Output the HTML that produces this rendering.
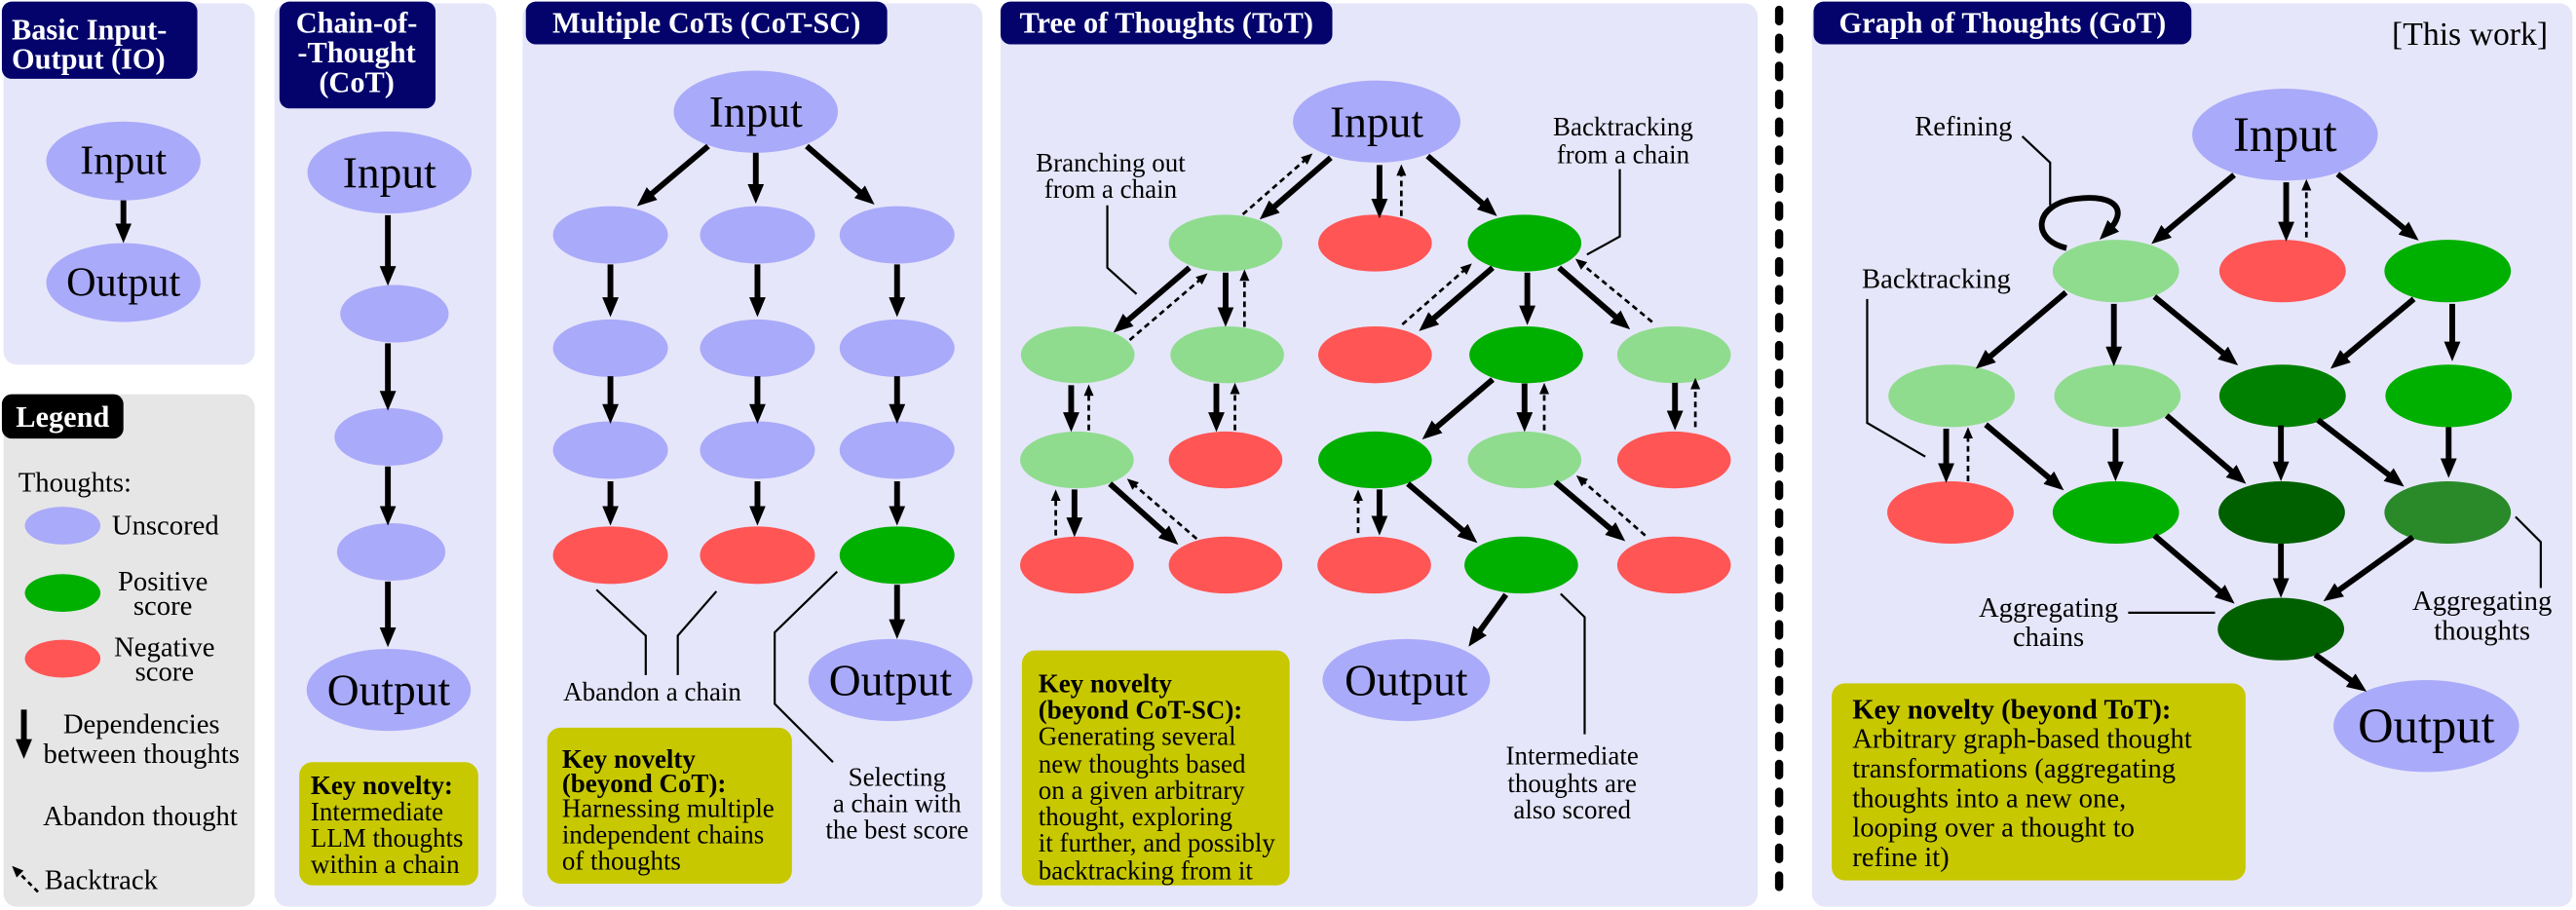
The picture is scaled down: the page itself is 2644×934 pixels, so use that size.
<!DOCTYPE html>
<html><head><meta charset="utf-8"><style>
html,body{margin:0;padding:0;background:#fff;}
svg{display:block;font-family:"Liberation Serif","Times New Roman","DejaVu Serif",serif;}
svg text{font-family:"Liberation Serif","Times New Roman","DejaVu Serif",serif;}
</style></head><body>
<svg width="2644" height="934" viewBox="0 0 1568 554" xmlns="http://www.w3.org/2000/svg" font-family="Liberation Serif, Times New Roman, DejaVu Serif, serif">
<defs>
<marker id="a" viewBox="0 0 12 10" markerWidth="12" markerHeight="10" markerUnits="userSpaceOnUse" refX="5" refY="5" orient="auto"><path d="M0,0 L12,5 L0,10 z" fill="#000"/></marker>
<marker id="d" viewBox="0 0 7 6" markerWidth="7" markerHeight="6" markerUnits="userSpaceOnUse" refX="3" refY="3" orient="auto"><path d="M0,0 L7,3 L0,6 z" fill="#000"/></marker>
</defs>
<g id="panels">
<rect x="2" y="2" width="153" height="220" rx="8" fill="#e6e6fa"/>
<rect x="2" y="240" width="153" height="312" rx="8" fill="#e6e6e6"/>
<rect x="167" y="2" width="135" height="550" rx="8" fill="#e6e6fa"/>
<rect x="318" y="2" width="280" height="550" rx="8" fill="#e6e6fa"/>
<rect x="609" y="2" width="461" height="550" rx="8" fill="#e6e6fa"/>
<rect x="1103" y="2" width="463" height="550" rx="8" fill="#e6e6fa"/>
<line x1="1083" y1="6" x2="1083" y2="550" stroke="#000" stroke-width="5" stroke-dasharray="7 10" stroke-linecap="round"/>
</g>
<!-- titles -->
<g font-weight="bold" fill="#fff" font-size="18">
<rect x="1" y="1" width="119" height="47" rx="6" fill="#03036b"/>
<text x="7" y="18" fill="#fff" dominant-baseline="central">Basic Input-</text>
<text x="7" y="36" fill="#fff" dominant-baseline="central">Output (IO)</text>
<rect x="170" y="1" width="95" height="65" rx="6" fill="#03036b"/>
<text x="217" y="14" fill="#fff" text-anchor="middle" dominant-baseline="central">Chain-of-</text>
<text x="217" y="32" fill="#fff" text-anchor="middle" dominant-baseline="central">-Thought</text>
<text x="217" y="50" fill="#fff" text-anchor="middle" dominant-baseline="central">(CoT)</text>
<rect x="320" y="1" width="220" height="26" rx="6" fill="#03036b"/>
<text x="430" y="14" fill="#fff" text-anchor="middle" dominant-baseline="central">Multiple CoTs (CoT-SC)</text>
<rect x="609" y="1" width="202" height="26" rx="6" fill="#03036b"/>
<text x="710" y="14" fill="#fff" text-anchor="middle" dominant-baseline="central">Tree of Thoughts (ToT)</text>
<rect x="1104" y="1" width="230" height="26" rx="6" fill="#03036b"/>
<text x="1219" y="14" fill="#fff" text-anchor="middle" dominant-baseline="central">Graph of Thoughts (GoT)</text>
<rect x="1" y="240" width="74" height="27" rx="6" fill="#000"/>
<text x="38" y="254" fill="#fff" text-anchor="middle" dominant-baseline="central">Legend</text>
</g>
<text x="1551" y="21" font-size="20" text-anchor="end" dominant-baseline="central">[This work]</text>

<!-- IO -->
<ellipse cx="75" cy="98" rx="47" ry="24" fill="#aaaafa"/>
<ellipse cx="75" cy="172" rx="47" ry="24" fill="#aaaafa"/>
<text x="75" y="98" font-size="25" text-anchor="middle" dominant-baseline="central">Input</text>
<text x="75" y="172" font-size="25" text-anchor="middle" dominant-baseline="central">Output</text>
<line x1="75" y1="122" x2="75" y2="141" stroke="#000" stroke-width="3.5" marker-end="url(#a)"/>

<!-- Legend -->
<g font-size="17">
<text x="11" y="294" dominant-baseline="central">Thoughts:</text>
<ellipse cx="38" cy="320" rx="23" ry="11.5" fill="#aaaafa"/>
<text x="68" y="320" dominant-baseline="central">Unscored</text>
<ellipse cx="38" cy="361" rx="23" ry="11.5" fill="#00b000"/>
<text x="99" y="354" text-anchor="middle" dominant-baseline="central">Positive</text>
<text x="99" y="369" text-anchor="middle" dominant-baseline="central">score</text>
<ellipse cx="38" cy="401" rx="23" ry="11.5" fill="#ff5555"/>
<text x="100" y="394" text-anchor="middle" dominant-baseline="central">Negative</text>
<text x="100" y="409" text-anchor="middle" dominant-baseline="central">score</text>
<line x1="14.4" y1="432" x2="14.4" y2="455" stroke="#000" stroke-width="3.5" marker-end="url(#a)"/>
<text x="86" y="441" text-anchor="middle" dominant-baseline="central">Dependencies</text>
<text x="86" y="459" text-anchor="middle" dominant-baseline="central">between thoughts</text>
<text x="26" y="497" dominant-baseline="central">Abandon thought</text>
<line x1="23" y1="543" x2="10" y2="530" stroke="#000" stroke-width="1.6" stroke-dasharray="3 2.5" marker-end="url(#d)"/>
<text x="27" y="536" dominant-baseline="central">Backtrack</text>
</g>

<!-- CoT -->
<g fill="#aaaafa">
<ellipse cx="237" cy="105" rx="50" ry="25"/>
<ellipse cx="240" cy="191" rx="33" ry="17.5"/>
<ellipse cx="236.5" cy="266" rx="33" ry="17.5"/>
<ellipse cx="238" cy="336" rx="33" ry="17.5"/>
<ellipse cx="236.5" cy="420" rx="50" ry="25"/>
</g>
<text x="237" y="105" font-size="27" text-anchor="middle" dominant-baseline="central">Input</text>
<text x="236.5" y="420" font-size="27" text-anchor="middle" dominant-baseline="central">Output</text>
<g stroke="#000" stroke-width="3.5" marker-end="url(#a)">
<line x1="236" y1="131" x2="236" y2="167"/>
<line x1="236" y1="209" x2="236" y2="243"/>
<line x1="236" y1="284" x2="236" y2="313"/>
<line x1="236" y1="354" x2="236" y2="387"/>
</g>
<rect x="182" y="464" width="109" height="75" rx="8" fill="#c8c800"/>
<g font-size="16">
<text x="189" y="478" font-weight="bold" dominant-baseline="central">Key novelty:</text>
<text x="189" y="494" dominant-baseline="central">Intermediate</text>
<text x="189" y="510" dominant-baseline="central">LLM thoughts</text>
<text x="189" y="526" dominant-baseline="central">within a chain</text>
</g>

<!-- CoT-SC -->
<g fill="#aaaafa">
<ellipse cx="460" cy="68" rx="50" ry="25"/>
<ellipse cx="371.5" cy="143" rx="35" ry="17.5"/><ellipse cx="461" cy="143" rx="35" ry="17.5"/><ellipse cx="546" cy="143" rx="35" ry="17.5"/>
<ellipse cx="371.5" cy="212" rx="35" ry="17.5"/><ellipse cx="461" cy="212" rx="35" ry="17.5"/><ellipse cx="546" cy="212" rx="35" ry="17.5"/>
<ellipse cx="371.5" cy="274" rx="35" ry="17.5"/><ellipse cx="461" cy="274" rx="35" ry="17.5"/><ellipse cx="546" cy="274" rx="35" ry="17.5"/>
<ellipse cx="542" cy="414" rx="50" ry="25"/>
</g>
<ellipse cx="371.5" cy="338" rx="35" ry="17.5" fill="#ff5555"/>
<ellipse cx="461" cy="338" rx="35" ry="17.5" fill="#ff5555"/>
<ellipse cx="546" cy="338" rx="35" ry="17.5" fill="#00b000"/>
<text x="460" y="68" font-size="27" text-anchor="middle" dominant-baseline="central">Input</text>
<text x="542" y="414" font-size="27" text-anchor="middle" dominant-baseline="central">Output</text>
<g stroke="#000" stroke-width="3.5" marker-end="url(#a)">
<line x1="431" y1="89" x2="393" y2="121"/>
<line x1="460" y1="93" x2="460" y2="117"/>
<line x1="491" y1="89" x2="527" y2="120"/>
<line x1="371.5" y1="161" x2="371.5" y2="186"/><line x1="461" y1="161" x2="461" y2="186"/><line x1="546" y1="161" x2="546" y2="186"/>
<line x1="371.5" y1="229" x2="371.5" y2="251"/><line x1="461" y1="229" x2="461" y2="251"/><line x1="546" y1="229" x2="546" y2="251"/>
<line x1="371.5" y1="293" x2="371.5" y2="313"/><line x1="461" y1="293" x2="461" y2="313"/><line x1="546" y1="293" x2="546" y2="313"/>
<line x1="546" y1="356" x2="546" y2="382"/>
</g>
<g stroke="#000" stroke-width="1.3" fill="none">
<polyline points="363,359 393,387 393,411"/>
<polyline points="436,360 412.5,387 412.5,411"/>
<polyline points="509.5,348 471.5,385 471.5,428.5 507,464"/>
</g>
<g font-size="16">
<text x="397" y="421" text-anchor="middle" dominant-baseline="central">Abandon a chain</text>
<text x="546" y="473" text-anchor="middle" dominant-baseline="central">Selecting</text>
<text x="546" y="489" text-anchor="middle" dominant-baseline="central">a chain with</text>
<text x="546" y="505" text-anchor="middle" dominant-baseline="central">the best score</text>
</g>
<rect x="333" y="443" width="149" height="95" rx="8" fill="#c8c800"/>
<g font-size="16">
<text x="342" y="462" font-weight="bold" dominant-baseline="central">Key novelty</text>
<text x="342" y="477" font-weight="bold" dominant-baseline="central">(beyond CoT):</text>
<text x="342" y="492" dominant-baseline="central">Harnessing multiple</text>
<text x="342" y="508" dominant-baseline="central">independent chains</text>
<text x="342" y="524" dominant-baseline="central">of thoughts</text>
</g>

<!-- ToT -->
<ellipse cx="838" cy="74" rx="51" ry="25" fill="#aaaafa"/>
<ellipse cx="856" cy="414" rx="51" ry="25" fill="#aaaafa"/>
<text x="838" y="74" font-size="27" text-anchor="middle" dominant-baseline="central">Input</text>
<text x="856" y="414" font-size="27" text-anchor="middle" dominant-baseline="central">Output</text>
<g>
<ellipse cx="746" cy="148" rx="34.6" ry="17.3" fill="#8fdc8f"/>
<ellipse cx="837" cy="148" rx="34.6" ry="17.3" fill="#ff5555"/>
<ellipse cx="928" cy="148" rx="34.6" ry="17.3" fill="#00b000"/>
<ellipse cx="656" cy="216" rx="34.6" ry="17.3" fill="#8fdc8f"/>
<ellipse cx="747" cy="216" rx="34.6" ry="17.3" fill="#8fdc8f"/>
<ellipse cx="837" cy="216" rx="34.6" ry="17.3" fill="#ff5555"/>
<ellipse cx="929" cy="216" rx="34.6" ry="17.3" fill="#00b000"/>
<ellipse cx="1019" cy="216" rx="34.6" ry="17.3" fill="#8fdc8f"/>
<ellipse cx="655.5" cy="280" rx="34.6" ry="17.3" fill="#8fdc8f"/>
<ellipse cx="746" cy="280" rx="34.6" ry="17.3" fill="#ff5555"/>
<ellipse cx="837" cy="280" rx="34.6" ry="17.3" fill="#00b000"/>
<ellipse cx="928" cy="280" rx="34.6" ry="17.3" fill="#8fdc8f"/>
<ellipse cx="1019" cy="280" rx="34.6" ry="17.3" fill="#ff5555"/>
<ellipse cx="655.5" cy="344" rx="34.6" ry="17.3" fill="#ff5555"/>
<ellipse cx="746" cy="344" rx="34.6" ry="17.3" fill="#ff5555"/>
<ellipse cx="836.5" cy="344" rx="34.6" ry="17.3" fill="#ff5555"/>
<ellipse cx="926" cy="344" rx="34.6" ry="17.3" fill="#00b000"/>
<ellipse cx="1019" cy="344" rx="34.6" ry="17.3" fill="#ff5555"/>
</g>
<g stroke="#000" stroke-width="3.5" marker-end="url(#a)">
<line x1="810" y1="96" x2="772" y2="129"/>
<line x1="839.7" y1="100.5" x2="839.7" y2="126"/>
<line x1="869" y1="95" x2="906" y2="127"/>
<line x1="724" y1="163" x2="683" y2="198"/>
<line x1="746" y1="166" x2="746" y2="192"/>
<line x1="908.6" y1="163" x2="869" y2="197"/>
<line x1="929.7" y1="166" x2="929.7" y2="191"/>
<line x1="949" y1="163" x2="987" y2="196"/>
<line x1="652" y1="234.5" x2="652" y2="256"/>
<line x1="740.4" y1="233.5" x2="740.4" y2="256"/>
<line x1="908.6" y1="231" x2="871" y2="263"/>
<line x1="928" y1="233.5" x2="928" y2="256"/>
<line x1="1019.6" y1="233" x2="1019.6" y2="255"/>
<line x1="654" y1="298" x2="654" y2="320"/>
<line x1="675.6" y1="294.5" x2="712" y2="327"/>
<line x1="839.7" y1="298" x2="839.7" y2="319"/>
<line x1="857" y1="294.5" x2="894" y2="326"/>
<line x1="946.8" y1="293.5" x2="984" y2="325"/>
<line x1="916.7" y1="362" x2="898" y2="388"/>
</g>
<g stroke="#000" stroke-width="1.6" stroke-dasharray="3.5 2.5" marker-end="url(#d)">
<line x1="756.5" y1="130.5" x2="796" y2="96"/>
<line x1="853" y1="131.5" x2="853" y2="104"/>
<line x1="687.6" y1="207" x2="732" y2="169"/>
<line x1="757.5" y1="199" x2="757.5" y2="168"/>
<line x1="853.6" y1="197.5" x2="893" y2="163"/>
<line x1="1005.7" y1="196" x2="962" y2="160"/>
<line x1="662.7" y1="262" x2="662.7" y2="238"/>
<line x1="751.7" y1="262" x2="751.7" y2="237"/>
<line x1="940" y1="262" x2="940" y2="237"/>
<line x1="1032" y1="260" x2="1032" y2="234"/>
<line x1="642.6" y1="326" x2="642.6" y2="302"/>
<line x1="728.4" y1="328" x2="689" y2="294"/>
<line x1="826.7" y1="324.5" x2="826.7" y2="302"/>
<line x1="1001.5" y1="326" x2="962.5" y2="292"/>
</g>
<g stroke="#000" stroke-width="1.3" fill="none">
<polyline points="674,125 674,163 691.8,179"/>
<polyline points="986,103 986,144 966,155"/>
<polyline points="950,361.5 964.6,375.7 964.6,447"/>
</g>
<g font-size="16">
<text x="676" y="99" text-anchor="middle" dominant-baseline="central">Branching out</text>
<text x="676" y="115" text-anchor="middle" dominant-baseline="central">from a chain</text>
<text x="988" y="77" text-anchor="middle" dominant-baseline="central">Backtracking</text>
<text x="988" y="94" text-anchor="middle" dominant-baseline="central">from a chain</text>
<text x="957" y="460" text-anchor="middle" dominant-baseline="central">Intermediate</text>
<text x="957" y="477" text-anchor="middle" dominant-baseline="central">thoughts are</text>
<text x="957" y="493" text-anchor="middle" dominant-baseline="central">also scored</text>
</g>
<rect x="622" y="396" width="163" height="143" rx="8" fill="#c8c800"/>
<g font-size="16">
<text x="632" y="416" font-weight="bold" dominant-baseline="central">Key novelty</text>
<text x="632" y="432" font-weight="bold" dominant-baseline="central">(beyond CoT-SC):</text>
<text x="632" y="448" dominant-baseline="central">Generating several</text>
<text x="632" y="465" dominant-baseline="central">new thoughts based</text>
<text x="632" y="481" dominant-baseline="central">on a given arbitrary</text>
<text x="632" y="497" dominant-baseline="central">thought, exploring</text>
<text x="632" y="513" dominant-baseline="central">it further, and possibly</text>
<text x="632" y="530" dominant-baseline="central">backtracking from it</text>
</g>

<!-- GoT -->
<ellipse cx="1391" cy="82" rx="56.5" ry="28" fill="#aaaafa"/>
<ellipse cx="1477" cy="442" rx="56.5" ry="28" fill="#aaaafa"/>
<text x="1391" y="82" font-size="30" text-anchor="middle" dominant-baseline="central">Input</text>
<text x="1477" y="442" font-size="30" text-anchor="middle" dominant-baseline="central">Output</text>
<ellipse cx="1288" cy="165" rx="38.5" ry="19" fill="#8fdc8f"/>
<ellipse cx="1389.5" cy="165" rx="38.5" ry="19" fill="#ff5555"/>
<ellipse cx="1490" cy="165" rx="38.5" ry="19" fill="#00b000"/>
<ellipse cx="1188" cy="241" rx="38.5" ry="19" fill="#8fdc8f"/>
<ellipse cx="1289" cy="241" rx="38.5" ry="19" fill="#8fdc8f"/>
<ellipse cx="1389.5" cy="241" rx="38.5" ry="19" fill="#008000"/>
<ellipse cx="1490.6" cy="241" rx="38.5" ry="19" fill="#00b000"/>
<ellipse cx="1187.3" cy="312" rx="38.5" ry="19" fill="#ff5555"/>
<ellipse cx="1288" cy="312" rx="38.5" ry="19" fill="#00b000"/>
<ellipse cx="1389" cy="312" rx="38.5" ry="19" fill="#006000"/>
<ellipse cx="1490" cy="312" rx="38.5" ry="19" fill="#2a8a2a"/>
<ellipse cx="1388.5" cy="383" rx="38.5" ry="19" fill="#006000"/>
<g stroke="#000" stroke-width="3.5" marker-end="url(#a)">
<line x1="1360" y1="106.5" x2="1315" y2="144"/>
<line x1="1391.7" y1="111" x2="1391.7" y2="140"/>
<line x1="1423" y1="106" x2="1467" y2="142"/>
<line x1="1257.6" y1="178" x2="1208" y2="220"/>
<line x1="1286.8" y1="185" x2="1286.8" y2="216"/>
<line x1="1311.5" y1="180.6" x2="1357" y2="218"/>
<line x1="1469.4" y1="182" x2="1424" y2="220"/>
<line x1="1492.8" y1="185" x2="1492.8" y2="213"/>
<line x1="1184.7" y1="261" x2="1184.7" y2="287"/>
<line x1="1208.8" y1="258.5" x2="1251" y2="294"/>
<line x1="1287.8" y1="261" x2="1287.8" y2="286"/>
<line x1="1318.9" y1="253" x2="1362" y2="290"/>
<line x1="1388.5" y1="259" x2="1388.5" y2="286"/>
<line x1="1411" y1="255.7" x2="1458" y2="292"/>
<line x1="1490.6" y1="260" x2="1490.6" y2="284"/>
<line x1="1311.5" y1="326" x2="1355" y2="363"/>
<line x1="1388.5" y1="331" x2="1388.5" y2="357"/>
<line x1="1468.8" y1="327" x2="1420" y2="362"/>
<line x1="1409.4" y1="398.6" x2="1435" y2="417"/>
</g>
<g stroke="#000" stroke-width="1.6" stroke-dasharray="3.5 2.5" marker-end="url(#d)">
<line x1="1404" y1="144.6" x2="1404" y2="113"/>
<line x1="1198" y1="293" x2="1198" y2="264"/>
</g>
<path d="M1258,151 C1236,146 1238,124 1264,121 C1288,118 1296,128 1283,141" fill="none" stroke="#000" stroke-width="3.5" marker-end="url(#a)"/>
<g stroke="#000" stroke-width="1.3" fill="none">
<polyline points="1231,83 1248,99 1248,125"/>
<polyline points="1136.6,182 1136.6,257.5 1172,278"/>
<polyline points="1295.5,373 1348.4,373"/>
<polyline points="1531.3,314.6 1546.7,330 1546.7,358"/>
</g>
<g font-size="17">
<text x="1225" y="77" text-anchor="end" dominant-baseline="central">Refining</text>
<text x="1224" y="170" text-anchor="end" dominant-baseline="central">Backtracking</text>
<text x="1247" y="370" text-anchor="middle" dominant-baseline="central">Aggregating</text>
<text x="1247" y="388" text-anchor="middle" dominant-baseline="central">chains</text>
<text x="1511" y="366" text-anchor="middle" dominant-baseline="central">Aggregating</text>
<text x="1511" y="384" text-anchor="middle" dominant-baseline="central">thoughts</text>
</g>
<rect x="1115" y="416" width="252" height="120" rx="8" fill="#c8c800"/>
<g font-size="17">
<text x="1127.6" y="432" font-weight="bold" dominant-baseline="central">Key novelty (beyond ToT):</text>
<text x="1127.6" y="450" dominant-baseline="central">Arbitrary graph-based thought</text>
<text x="1127.6" y="468" dominant-baseline="central">transformations (aggregating</text>
<text x="1127.6" y="486" dominant-baseline="central">thoughts into a new one,</text>
<text x="1127.6" y="504" dominant-baseline="central">looping over a thought to</text>
<text x="1127.6" y="522" dominant-baseline="central">refine it)</text>
</g>
</svg>
</body></html>
